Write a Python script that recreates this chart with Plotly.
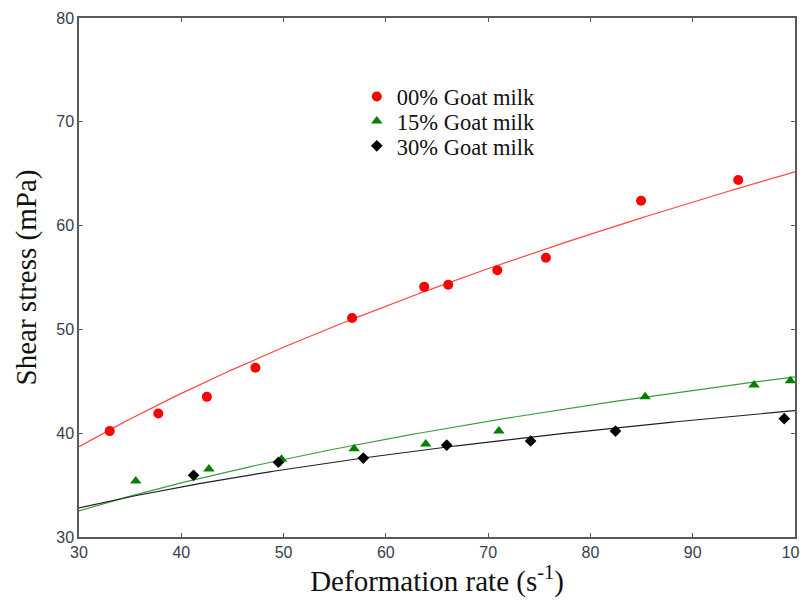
import numpy as np
import plotly.graph_objects as go

# ---- data ----
x_00 = [33.0, 37.75, 42.5, 47.25, 56.7, 63.75, 66.1, 70.9, 75.65, 84.95, 94.45]
y_00 = [40.2, 41.9, 43.5, 46.3, 51.1, 54.1, 54.3, 55.7, 56.9, 62.4, 64.4]

x_15 = [35.55, 42.7, 49.8, 56.9, 63.9, 71.05, 85.35, 96.0, 99.55]
y_15 = [35.4, 36.55, 37.5, 38.5, 38.95, 40.2, 43.5, 44.65, 45.05]

x_30 = [41.2, 49.5, 57.8, 65.95, 74.15, 82.45, 98.95]
y_30 = [35.95, 37.2, 37.6, 38.85, 39.25, 40.2, 41.4]

names = ["00% Goat milk", "15% Goat milk", "30% Goat milk"]
# power-law fit parameters (tau = k * rate^n)
fit_k = [8.874, 12.63, 16.11]
fit_n = [0.433, 0.278, 0.209]

x_ticks = [30, 40, 50, 60, 70, 80, 90, 100]
y_ticks = [30, 40, 50, 60, 70, 80]

marker_colors = ["#ff0000", "#008000", "#000000"]
line_colors = ["#ff4545", "#3c9c3c", "#202020"]
symbols = ["circle", "triangle-up", "diamond"]
sizes = [10, 10, 9]

# legend placement (paper coords), one small legend per series
leg_ids = ["legend", "legend2", "legend3"]
leg_y = [0.848, 0.801, 0.753]
leg_x = 0.388

fig = go.Figure()
xs_fit = np.linspace(30, 100, 200)
for k, n, lc in zip(fit_k, fit_n, line_colors):
    fig.add_trace(go.Scatter(x=xs_fit, y=k * xs_fit ** n, mode="lines",
                             line=dict(color=lc, width=1.2), showlegend=False,
                             hoverinfo="skip"))

for xv, yv, nm, mc, sym, sz, lid in zip([x_00, x_15, x_30], [y_00, y_15, y_30],
                                        names, marker_colors, symbols, sizes,
                                        leg_ids):
    fig.add_trace(go.Scatter(x=xv, y=yv, mode="markers", name=nm, legend=lid,
                             marker=dict(color=mc, symbol=sym, size=sz)))

axis_common = dict(
    showgrid=False, zeroline=False, showline=True, linecolor="#5a5a5a",
    linewidth=1.5, mirror="ticks", ticks="inside", ticklen=4,
    tickcolor="#5a5a5a", tickwidth=1, automargin=False,
    ticklabeloverflow="allow",
    tickfont=dict(family="Liberation Sans, Arial", size=16, color="#36404e"),
)

title_font = dict(family="Liberation Serif, Times New Roman", size=29, color="#111")
leg_font = dict(family="Liberation Serif, Times New Roman", size=22.5, color="#111")

legends = {}
for lid, ly in zip(leg_ids, leg_y):
    legends[lid] = dict(x=leg_x, y=ly, xanchor="left", yanchor="middle",
                        bgcolor="rgba(0,0,0,0)", font=leg_font)

# the page body adds an 8px margin, so the figure is 800x594
fig.update_layout(
    width=800, height=594,
    margin=dict(l=71, r=13, t=10, b=65),
    paper_bgcolor="white", plot_bgcolor="white",
    xaxis=dict(range=[30, 100], tickvals=x_ticks, **axis_common,
               title=dict(text="Deformation rate (s<sup>-1</sup>)",
                          font=title_font, standoff=6)),
    yaxis=dict(range=[30, 80], tickvals=y_ticks, **axis_common,
               title=dict(text="Shear stress (mPa)",
                          font=title_font, standoff=11)),
    showlegend=True,
    **legends,
)

fig.write_html("out.html")
